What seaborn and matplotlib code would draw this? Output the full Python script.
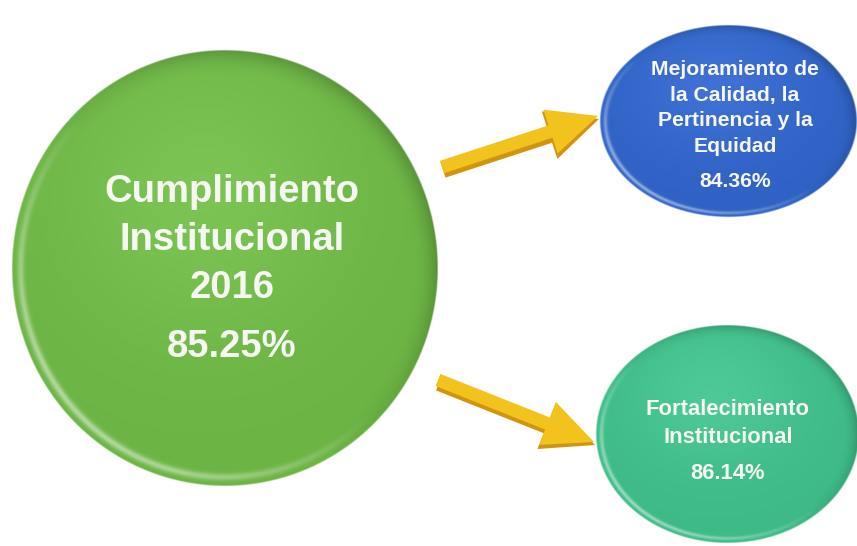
"""
Cumplimiento Institucional 2016 - diagrama de burbujas con flechas
"""
import numpy as np
import seaborn as sns
import matplotlib.pyplot as plt
from matplotlib.patches import FancyArrow
from matplotlib.colors import to_rgb

# Data
label_lines = [
    ["Cumplimiento", "Institucional", "2016"],
    ["Mejoramiento de", "la Calidad, la", "Pertinencia y la", "Equidad"],
    ["Fortalecimiento", "Institucional"],
]
values = [85.25, 84.36, 86.14]
colors = ["#6cb444", "#2f62c4", "#3dba86"]

# Layout (pixel units, y grows downwards)
centers = [(225, 268), (728, 121), (727, 434)]
half_w = [213, 128, 131]
half_h = [218, 96, 109]
text_x = [232, 735, 728]
first_base = [202, 75, 415]
line_step = [48, 25.5, 28]
pct_base = [357, 187, 479]
line_size = [27.5, 15.2, 15.8]
pct_size = [27.5, 15.2, 15.8]
arrows = [((442, 167), (598, 116)), ((438, 380), (594, 442))]

sns.set_theme(style="white")
plt.rcParams["font.family"] = ["Liberation Sans", "DejaVu Sans"]

fig = plt.figure(figsize=(8.57, 5.46), dpi=100)
ax = fig.add_axes([0, 0, 1, 1])
ax.set_xlim(0, 857)
ax.set_ylim(546, 0)
ax.set_aspect("equal")
ax.axis("off")


def shaded_ellipse(cx, cy, a, b, color):
    x0, x1 = cx - a - 2, cx + a + 2
    y0, y1 = cy - b - 2, cy + b + 2
    nx, ny = int((x1 - x0) * 2), int((y1 - y0) * 2)
    X, Y = np.meshgrid(np.linspace(x0, x1, nx), np.linspace(y0, y1, ny))
    u = (X - cx) / a
    v = (Y - cy) / b
    r = np.sqrt(u ** 2 + v ** 2)
    base = np.array(to_rgb(color))
    # soft highlight in the upper middle
    glow = 0.06 * np.exp(-((u + 0.1) ** 2 + (v + 0.35) ** 2) / 0.45)
    # darker border, mostly on the upper right
    edge = np.clip((r - 0.88) / 0.12, 0, 1) ** 2
    dark = 1 - 0.2 * edge * np.clip(0.3 + (u - v) / 1.4, 0, 1)
    # light rim on the lower left
    side = np.clip((-u + v) / np.sqrt(2), 0, 1)
    rim = 0.5 * np.exp(-((r - 0.96) / 0.016) ** 2) * side
    rgb = base[None, None, :] * dark[..., None] + glow[..., None]
    rgb = rgb + (1 - rgb) * rim[..., None]
    rgb = np.clip(rgb, 0, 1)
    px = 1.0 / min(a, b)
    alpha = np.clip((1 - r) / px + 0.5, 0, 1)
    ax.imshow(np.dstack([rgb, alpha]), extent=(x0, x1, y1, y0),
              origin="upper", interpolation="bilinear", zorder=2)


# Arrows (gold, darker side for a 3D look)
for (x0, y0), (x1, y1) in arrows:
    dx, dy = x1 - x0, y1 - y0
    ax.add_patch(FancyArrow(x0 + 1, y0 + 3, dx, dy, width=16, head_width=50,
                            head_length=52, length_includes_head=True,
                            color="#cf950f", lw=0, zorder=1))
    ax.add_patch(FancyArrow(x0, y0, dx, dy, width=13, head_width=46,
                            head_length=50, length_includes_head=True,
                            color="#f2c31d", lw=0, zorder=1.5))

for i in range(len(values)):
    cx, cy = centers[i]
    shaded_ellipse(cx, cy, half_w[i], half_h[i], colors[i])
    for k, line in enumerate(label_lines[i]):
        ax.text(text_x[i], first_base[i] + k * line_step[i], line,
                ha="center", va="baseline", color="#f6f6f2",
                fontsize=line_size[i], fontweight="bold", zorder=4)
    ax.text(text_x[i], pct_base[i], f"{values[i]:.2f}%", ha="center",
            va="baseline", color="#f6f6f2", fontsize=pct_size[i],
            fontweight="bold", zorder=4)

fig.savefig("out.png", dpi=100)
